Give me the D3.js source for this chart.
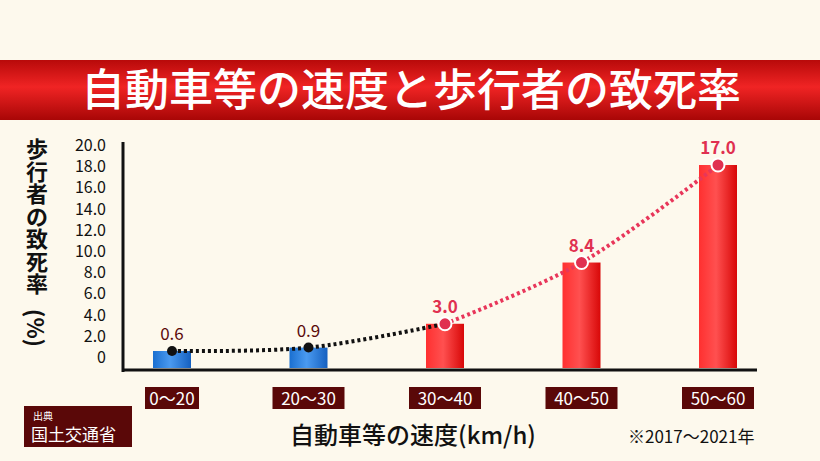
<!DOCTYPE html>
<html><head><meta charset="utf-8">
<script src="https://cdn.jsdelivr.net/npm/d3@7"></script>
<style>body{margin:0;background:#fdf9ed}</style></head>
<body><script>
const categories=["0〜20","20〜30","30〜40","40〜50","50〜60"];
const values=[0.6,0.9,3.0,8.4,17.0];
const labels=["0.6","0.9","3.0","8.4","17.0"];
const yTicks=[0,2,4,6,8,10,12,14,16,18,20];
const W=820,H=461,F="'Noto Sans CJK JP','Noto Sans',sans-serif";
const svg=d3.select("body").append("svg").attr("width",W).attr("height",H);
svg.append("rect").attr("width",W).attr("height",H).attr("fill","#fdf9ed");
const defs=svg.append("defs");
const bg=defs.append("linearGradient").attr("id","ban").attr("x1",0).attr("x2",0).attr("y1",0).attr("y2",1);
[[0,"#b80a0a"],[0.45,"#f02424"],[1,"#a80606"]].forEach(s=>bg.append("stop").attr("offset",s[0]).attr("stop-color",s[1]));
const rg=defs.append("linearGradient").attr("id","red");
[[0,"#ff3030"],[0.45,"#ff5050"],[1,"#d80808"]].forEach(s=>rg.append("stop").attr("offset",s[0]).attr("stop-color",s[1]));
const blg=defs.append("linearGradient").attr("id","blue");
[[0,"#1a6fd0"],[0.45,"#4a9af0"],[1,"#1560c0"]].forEach(s=>blg.append("stop").attr("offset",s[0]).attr("stop-color",s[1]));
svg.append("rect").attr("x",0).attr("y",60).attr("width",W).attr("height",60).attr("fill","url(#ban)");
svg.append("text").attr("x",411).attr("y",106).attr("text-anchor","middle").attr("fill","#fff")
 .attr("font-family",F).attr("font-size",44).attr("font-weight",500).text("自動車等の速度と歩行者の致死率");
const x=d3.scalePoint().domain(categories).range([172,718]);
const yTick=d3.scaleLinear().domain([0,20]).range([357,145]);
const y=d3.scaleLinear().domain([-0.9,17]).range([368,165]);
svg.append("g").selectAll("text").data(yTicks).join("text").attr("x",106).attr("y",d=>yTick(d)+6)
 .attr("text-anchor","end").attr("font-family",F).attr("font-size",16).attr("fill","#111")
 .text(d=>d===0?"0":d.toFixed(1));
const yt="歩行者の致死率";
svg.append("g").selectAll("text").data(yt.split("")).join("text").attr("x",37).attr("y",(d,i)=>157+i*22.5)
 .attr("text-anchor","middle").attr("font-family",F).attr("font-size",22).attr("font-weight",700).attr("fill","#111").text(d=>d);
svg.append("text").attr("transform","translate(37,328) rotate(90)").attr("text-anchor","middle").attr("dominant-baseline","central")
 .attr("font-family",F).attr("font-size",22).attr("font-weight",700).attr("fill","#111").text("(%)");
const bw=38;
svg.append("g").selectAll("rect").data(values).join("rect")
 .attr("x",(d,i)=>x(categories[i])-bw/2).attr("y",d=>y(d)).attr("width",bw).attr("height",d=>y(-0.9)-y(d))
 .attr("fill",(d,i)=>i<2?"url(#blue)":"url(#red)");
svg.append("line").attr("x1",123).attr("x2",123).attr("y1",142).attr("y2",372).attr("stroke","#111").attr("stroke-width",3);
svg.append("line").attr("x1",122).attr("x2",757).attr("y1",370).attr("y2",370).attr("stroke","#111").attr("stroke-width",3);
const pts=values.map((v,i)=>[x(categories[i]),y(v)]);
const line=d3.line().curve(d3.curveCatmullRom);
svg.append("path").attr("d",line(pts.slice(0,3))).attr("fill","none").attr("stroke","#111").attr("stroke-width",4).attr("stroke-dasharray","3,3");
svg.append("path").attr("d",line(pts.slice(2))).attr("fill","none").attr("stroke","#e8365a").attr("stroke-width",4).attr("stroke-dasharray","3,3");
svg.append("g").selectAll("circle").data(pts).join("circle").attr("cx",d=>d[0]).attr("cy",d=>d[1])
 .attr("r",(d,i)=>i<2?5:6.5).attr("fill",(d,i)=>i<2?"#111":"#e03050").attr("stroke",(d,i)=>i<2?"none":"#fff").attr("stroke-width",2);
svg.append("g").selectAll("text").data(labels).join("text").attr("x",(d,i)=>x(categories[i])).attr("y",(d,i)=>y(values[i])-11)
 .attr("text-anchor","middle").attr("font-family",F).attr("font-size",17).attr("font-weight",(d,i)=>i<2?400:700)
 .attr("fill",(d,i)=>i<2?"#5a0a0a":"#e03050").text(d=>d);
const cg=svg.append("g").selectAll("g").data(categories).join("g").attr("transform",d=>`translate(${x(d)},398)`);
cg.append("rect").attr("x",(d,i)=>i===0?-27:-36).attr("y",-11).attr("width",(d,i)=>i===0?54:72).attr("height",22).attr("fill","#5a0808");
cg.append("text").attr("y",6.5).attr("text-anchor","middle").attr("fill","#fff").attr("font-family",F).attr("font-size",17).text(d=>d);
svg.append("text").attr("x",413).attr("y",444).attr("text-anchor","middle").attr("font-family",F).attr("font-size",24).attr("font-weight",500).attr("fill","#111").text("自動車等の速度(km/h)");
svg.append("text").attr("x",628).attr("y",443).attr("font-family",F).attr("font-size",17).attr("fill","#111").text("※2017〜2021年");
svg.append("rect").attr("x",24).attr("y",406).attr("width",108).attr("height",41).attr("fill","#5a0808");
svg.append("text").attr("x",33).attr("y",420).attr("fill","#fff").attr("font-family",F).attr("font-size",10).text("出典");
svg.append("text").attr("x",31).attr("y",441).attr("fill","#fff").attr("font-family",F).attr("font-size",17).text("国土交通省");
</script></body></html>
